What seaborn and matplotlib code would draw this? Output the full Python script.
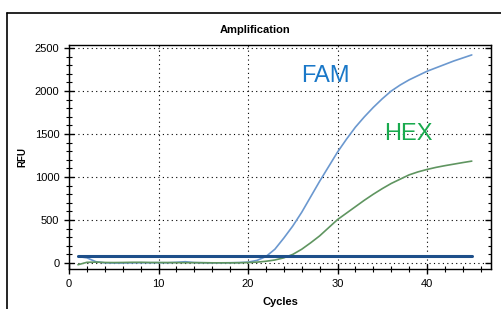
import matplotlib
matplotlib.use("Agg")
import matplotlib.pyplot as plt
import seaborn as sns
import pandas as pd
from matplotlib.lines import Line2D
from matplotlib.ticker import MultipleLocator

cycles = list(range(1, 46))

fam_rfu = [
    75, 60, 15, 2, 0, 0, 2, 3, 3, 4,
    3, 8, 15, 5, 3, 2, 2, 3, 5, 10,
    30, 75, 160, 290, 430, 590, 770, 950, 1120, 1290,
    1440, 1580, 1700, 1810, 1910, 2000, 2070, 2130, 2180, 2230,
    2270, 2310, 2350, 2385, 2420,
]

hex_rfu = [
    -20, 8, 10, 6, 5, 6, 8, 8, 6, 5,
    5, 4, 3, 4, 3, 2, 2, 2, 3, 5,
    10, 20, 35, 60, 100, 160, 235, 315, 410, 505,
    580, 655, 730, 800, 865, 925, 975, 1025, 1060, 1088,
    1112, 1132, 1150, 1168, 1185,
]

threshold = 80
threshold_span = [1, 45]

df = pd.DataFrame({"Cycles": cycles * 2,
                   "RFU": fam_rfu + hex_rfu,
                   "dye": ["FAM"] * len(cycles) + ["HEX"] * len(cycles)})

sns.set_style("ticks")
plt.rcParams["font.family"] = ["Liberation Sans", "DejaVu Sans"]
plt.rcParams["text.color"] = "black"
plt.rcParams["axes.labelcolor"] = "black"

fig = plt.figure(figsize=(5.02, 3.09), dpi=100)
ax = fig.add_axes([0.1375, 0.1294, 0.8406, 0.7265])

sns.lineplot(data=df, x="Cycles", y="RFU", hue="dye",
             palette={"FAM": "#6b98cf", "HEX": "#5f9560"},
             linewidth=1.2, legend=False, ax=ax)
ax.plot(threshold_span, [threshold, threshold], color="#1d4f8a", linewidth=2.2)

ax.set_xlim(0, 47.15)
ax.set_ylim(-70, 2541)
ax.xaxis.set_major_locator(MultipleLocator(10))
ax.xaxis.set_minor_locator(MultipleLocator(2))
ax.yaxis.set_major_locator(MultipleLocator(500))
ax.yaxis.set_minor_locator(MultipleLocator(100))
ax.grid(True, which="major", color="black", linestyle=(0, (1, 3)), linewidth=0.8)

ax.tick_params(which="both", direction="inout", colors="black", labelsize=8)
ax.tick_params(which="major", length=7, width=1)
ax.tick_params(which="minor", length=4, width=0.8)

# right-hand axis only carries short inward marks
rax = ax.secondary_yaxis("right")
rax.yaxis.set_major_locator(MultipleLocator(500))
rax.yaxis.set_minor_locator(MultipleLocator(100))
rax.tick_params(which="both", direction="in", labelright=False, colors="black")
rax.tick_params(which="major", length=4, width=1)
rax.tick_params(which="minor", length=2, width=0.8)

for s in ax.spines.values():
    s.set_color("black")
    s.set_linewidth(1)

ax.set_title("Amplification", fontsize=8, fontweight="bold", pad=8, x=0.44)
ax.set_xlabel("Cycles", fontsize=8, fontweight="bold", labelpad=6)
ax.set_ylabel("RFU", fontsize=7, fontweight="bold", labelpad=5)

ax.text(28.7, 2170, "FAM", color="#1a78c8", fontsize=17, ha="center", va="center")
ax.text(37.9, 1500, "HEX", color="#19aa4e", fontsize=17, ha="center", va="center")

fig.add_artist(Line2D([7 / 502, 1], [1 - 13 / 309, 1 - 13 / 309], color="black", linewidth=1.2))
fig.add_artist(Line2D([7 / 502, 7 / 502], [0, 1 - 13 / 309], color="black", linewidth=1.2))

fig.savefig("out.png", dpi=100)
